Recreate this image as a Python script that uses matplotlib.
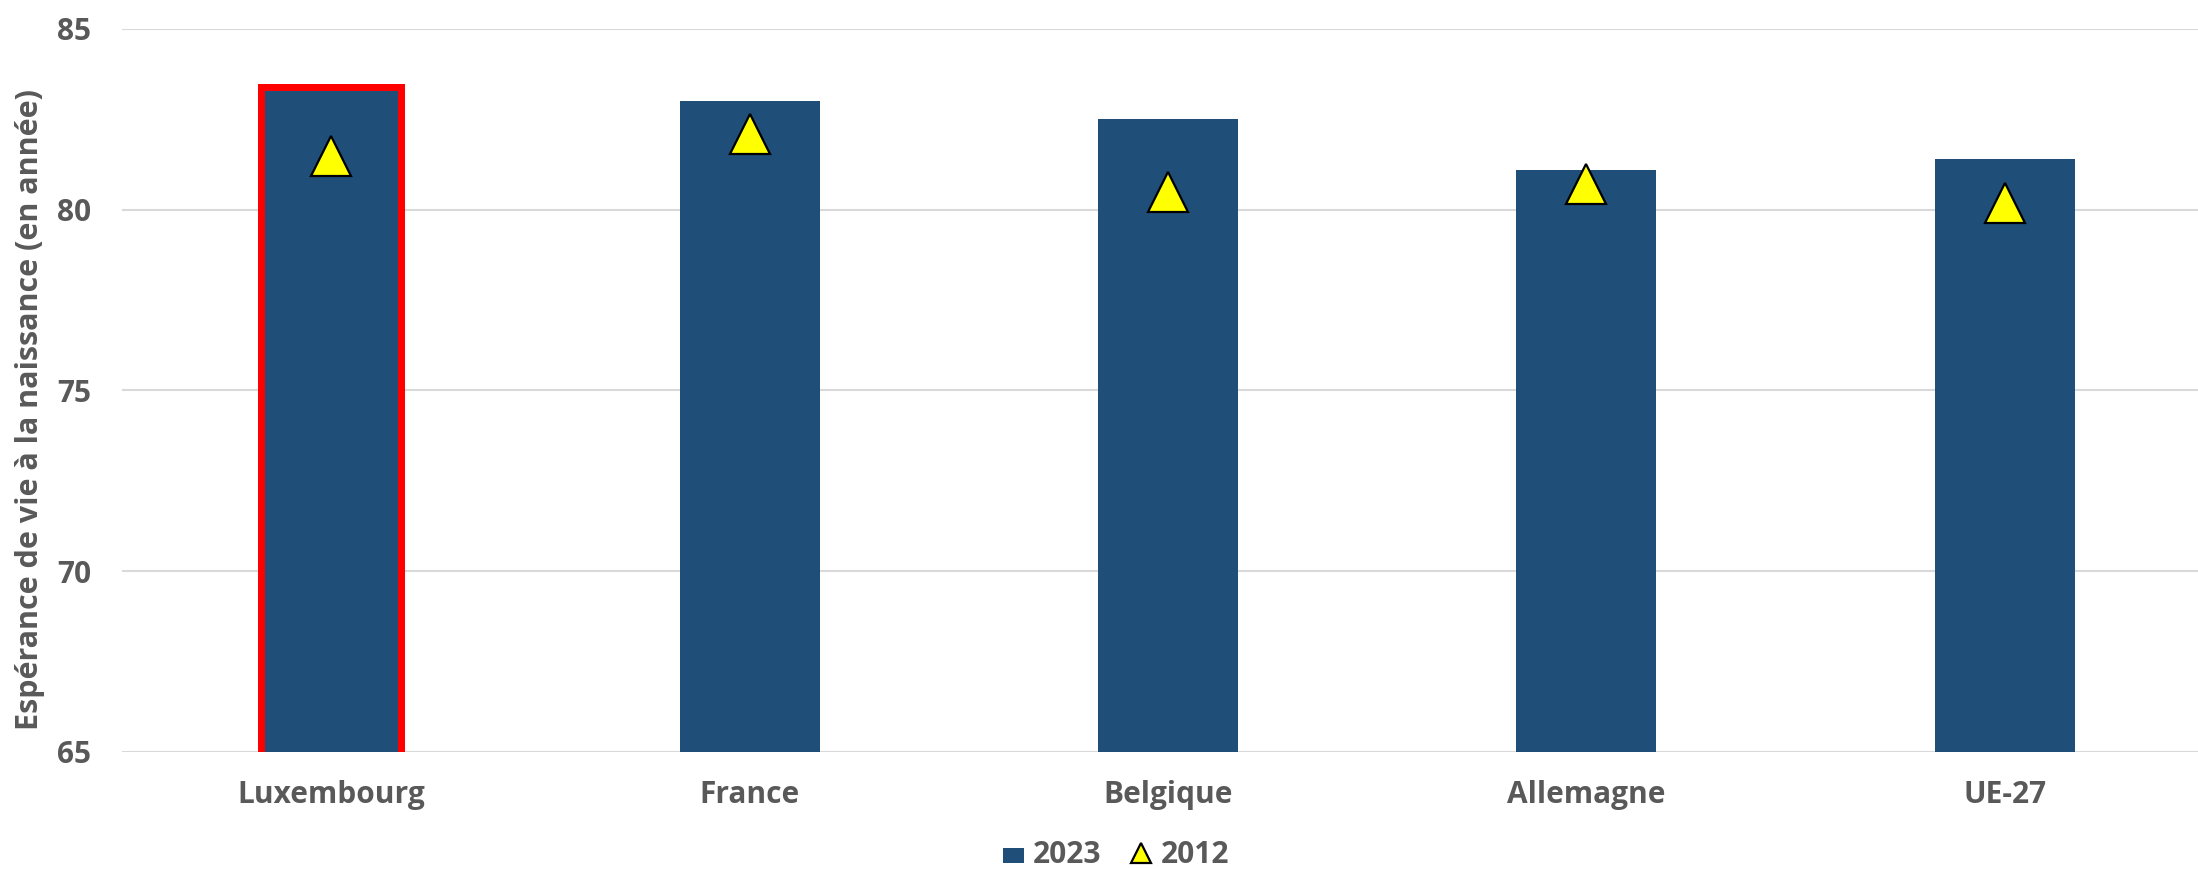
import numpy as np
import matplotlib
matplotlib.use('Agg')
import matplotlib.pyplot as plt

pays = ['Luxembourg', 'France', 'Belgique', 'Allemagne', 'UE-27']
esp_2023 = [83.4, 83.0, 82.5, 81.1, 81.4]
esp_2012 = [81.5, 82.1, 80.5, 80.7, 80.2]
y_ticks = [65, 70, 75, 80, 85]

plt.rcParams['font.family'] = ['Open Sans', 'DejaVu Sans']
plt.rcParams['font.weight'] = 'bold'

gris = '#595959'
bleu = '#1F4E79'

fig = plt.figure(figsize=(21.98, 8.69), dpi=100)
# the plot area runs slightly past the right edge, as in the original
ax = fig.add_axes([122 / 2198, 1 - 752 / 869, (2214 - 122) / 2198, (752 - 29) / 869])

x = np.arange(len(pays))
bars = ax.bar(x, esp_2023, width=0.335, color=bleu, zorder=2, label='2023')
# Luxembourg highlighted with a red frame
bars[0].set_edgecolor('#FF0000')
bars[0].set_linewidth(7 * 72 / 100)

pts, = ax.plot(x, esp_2012, linestyle='none', marker='^', markersize=28.5,
               markerfacecolor='#FFFF00', markeredgecolor='black', markeredgewidth=1.6,
               zorder=3, label='2012')

ax.set_ylim(65, 85)
ax.set_xlim(-0.5, len(pays) - 0.5)
ax.set_yticks(y_ticks)
ax.set_xticks(x)
ax.set_xticklabels(pays)

ax.grid(axis='y', color='#D9D9D9', linewidth=1.5, zorder=0)
ax.set_axisbelow(True)
for s in ax.spines.values():
    s.set_visible(False)
ax.tick_params(axis='both', length=0, labelsize=21.5, labelcolor=gris)
ax.tick_params(axis='y', pad=22)
ax.tick_params(axis='x', pad=20)

fig.text(30 / 2198, 1 - 410 / 869, 'Espérance de vie à la naissance (en année)',
         rotation=90, ha='center', va='center', fontsize=22, color=gris,
         fontweight='bold')

leg = fig.legend([bars, pts], ['2023', '2012'], loc='center',
                 bbox_to_anchor=(1116 / 2198, 1 - 855 / 869),
                 ncol=2, frameon=False, fontsize=21.5, handlelength=0.7,
                 handletextpad=0.3, columnspacing=1.0, markerscale=0.5)
for t in leg.get_texts():
    t.set_color(gris)
# the legend square for the bars should not show the red frame
for h in leg.legend_handles:
    if isinstance(h, matplotlib.patches.Rectangle):
        h.set_edgecolor(bleu)
        h.set_linewidth(0)
        h.set_height(0.7 * h.get_height())

fig.savefig('out.png', dpi=100)
